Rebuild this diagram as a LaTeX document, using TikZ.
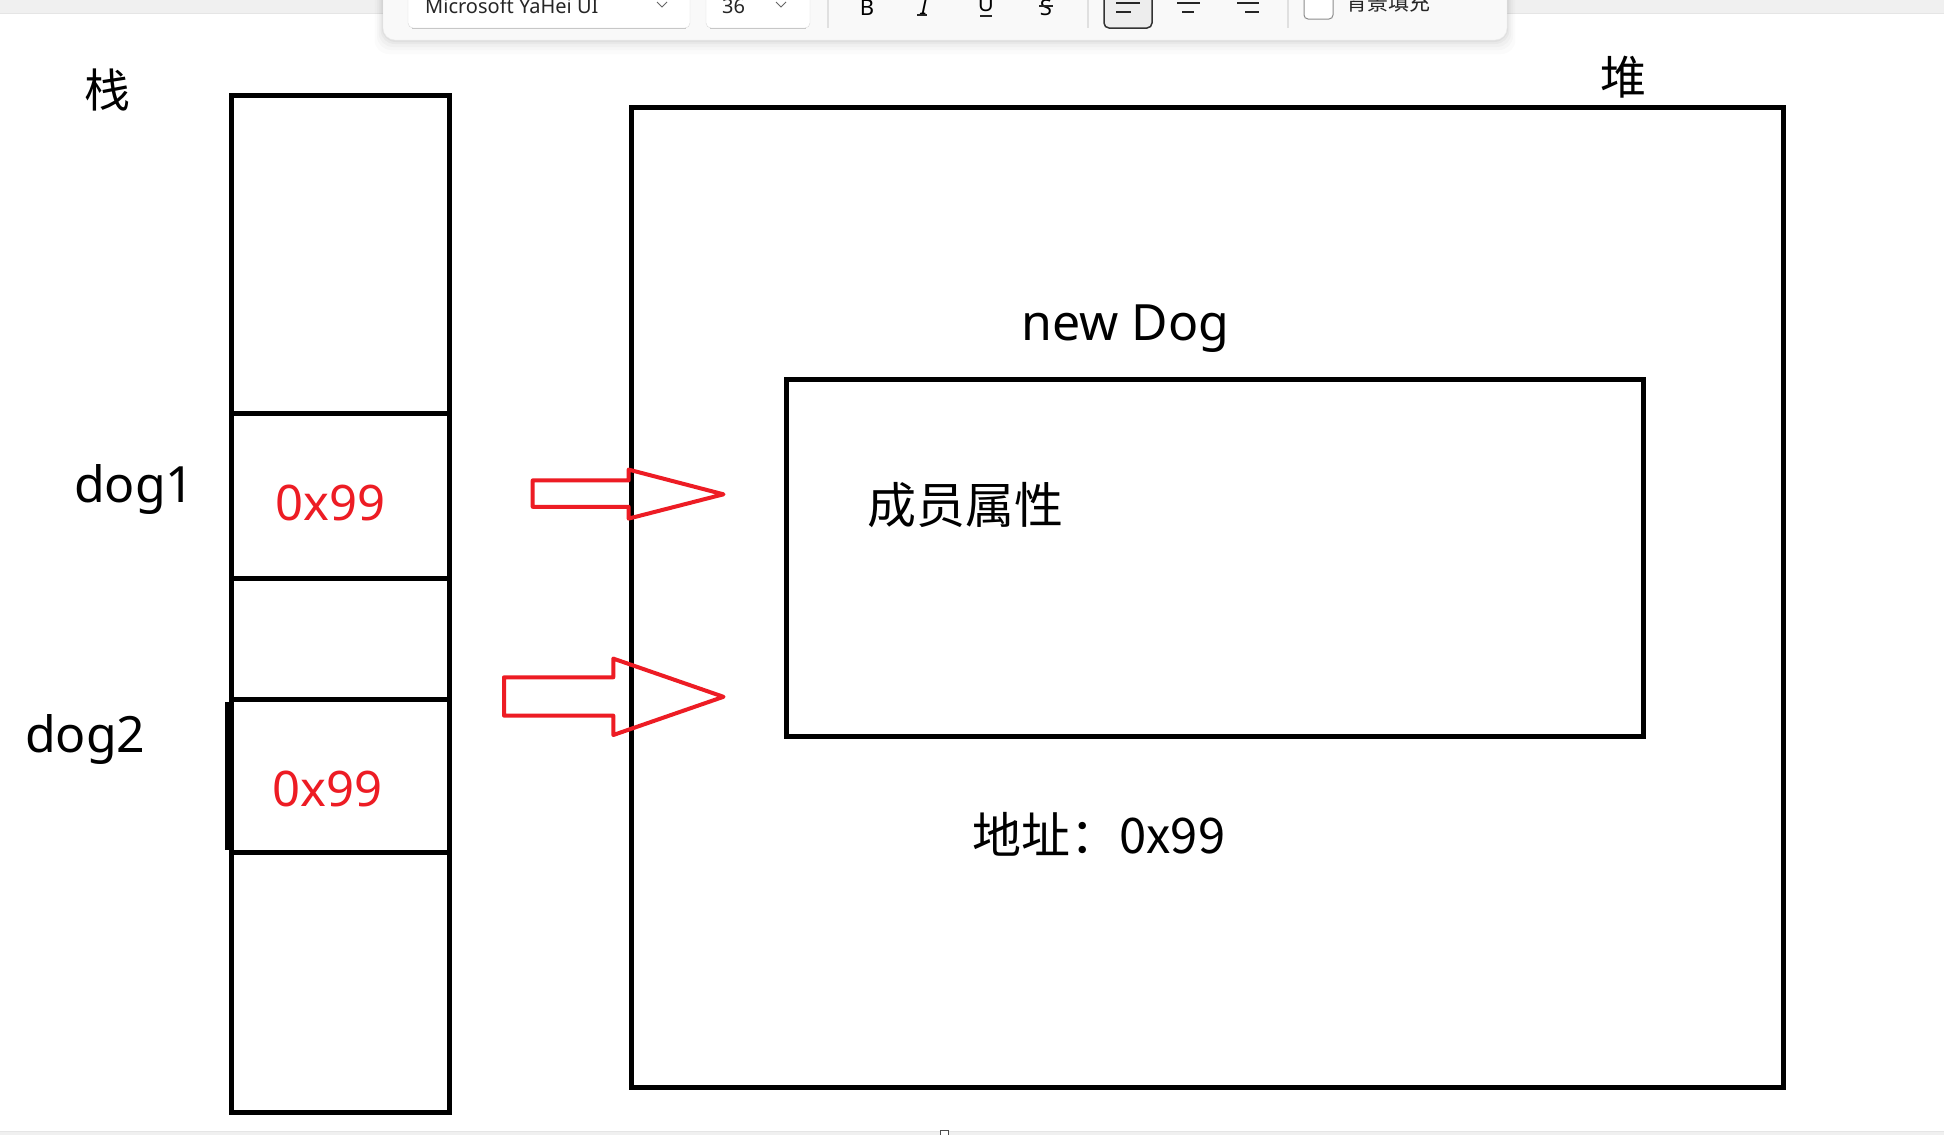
\documentclass[tikz,border=0pt]{standalone}
\usepackage{fontspec}
\setmainfont{Noto Sans}
\newfontfamily\cjk{Noto Sans CJK SC}
\definecolor{pred}{HTML}{ED1C24}
\definecolor{tbbg}{HTML}{F9F9F9}
\definecolor{stripgray}{HTML}{F0F0F0}
\begin{document}
\begin{tikzpicture}[x=1pt,y=-1pt,
  cell/.style={draw, line width=5pt, minimum width=218pt, inner sep=0pt, outer sep=0pt},
  box/.style={draw, line width=5pt, inner sep=0pt, outer sep=0pt},
  bigtxt/.style={font=\fontsize{50}{58}\selectfont, inner sep=0pt, anchor=base west},
  cjktxt/.style={font=\cjk\fontsize{49}{58}\selectfont, inner sep=0pt, anchor=base west},
  redtxt/.style={bigtxt, font=\fontsize{49}{58}\selectfont, text=pred},
  blockarrow/.style={draw=pred, line width=4pt, line join=round},
  uitxt/.style={font=\fontsize{20}{24}\selectfont, inner sep=0pt, anchor=base west, text=black!85},
  uisep/.style={draw=black!12, line width=1.2pt},
  uichev/.style={draw=black!60, line width=1pt},
  uiline/.style={draw=black!85, line width=1.6pt}
]
\useasboundingbox (0,0) rectangle (1944,1135);
\fill[white] (0,0) rectangle (1944,1135);

% top and bottom window strips
\fill[stripgray] (0,0) rectangle (1944,13);
\draw[black!10, line width=1pt] (0,13) -- (1944,13);
\fill[stripgray] (0,1131.5) rectangle (1944,1135);
\draw[black!10, line width=0.8pt] (0,1131.5) -- (1944,1131.5);
\draw[black!70, line width=1pt, fill=white] (940,1130) rectangle (948,1136);

% toolbar with soft shadow
\foreach \d/\o in {14/0.015,10/0.02,7/0.025,4/0.03,2/0.035}{
  \fill[black, opacity=\o, rounded corners=14pt] (383-\d*0.6,-20) rectangle (1507+\d*0.6,40+\d);
}
\draw[fill=tbbg, draw=black!8, rounded corners=12pt] (383,-20) rectangle (1507,40);
\draw[fill=white, draw=black!14, rounded corners=5pt] (408,-10) rectangle (690,28);
\draw[black!22, line width=1pt] (412,28) -- (686,28);
\node[uitxt] (fontname) at (425,13) {Microsoft YaHei UI};
\draw[uichev] (657,2) -- (662,7) -- (667,2);
\draw[fill=white, draw=black!14, rounded corners=5pt] (706,-10) rectangle (810,28);
\draw[black!22, line width=1pt] (710,28) -- (806,28);
\node[uitxt] (fontsize) at (722,13) {36};
\draw[uichev] (776,2) -- (781,7) -- (786,2);
\draw[uisep] (828,-5) -- (828,28);
\node[font=\bfseries\fontsize{22}{26}\selectfont, inner sep=0pt, anchor=base] (bold) at (867,15) {B};
\node[font=\itshape\fontsize{22}{26}\selectfont, inner sep=0pt, anchor=base] (ital) at (924,14) {I};
\draw[black!85, line width=1.2pt] (917,15) -- (927,15);
\node[font=\fontsize{22}{26}\selectfont, inner sep=0pt, anchor=base] (under) at (986,12) {U};
\draw[black!85, line width=1.2pt] (980,16) -- (992,16);
\node[font=\fontsize{22}{26}\selectfont, inner sep=0pt, anchor=base] (strike) at (1046,15) {S};
\draw[black!85, line width=1.2pt] (1039,6) -- (1053,6);
\draw[uisep] (1088,-5) -- (1088,28);
\draw[fill=tbbg!95!black, draw=black!80, line width=1.5pt, rounded corners=5pt] (1104,-10) rectangle (1152,28);
\draw[uiline] (1116,3) -- (1140,3);
\draw[uiline] (1116,12) -- (1131,12);
\draw[uiline] (1177,3) -- (1200,3);
\draw[uiline] (1182,12) -- (1194,12);
\draw[uiline] (1237,3) -- (1259,3);
\draw[uiline] (1245,12) -- (1259,12);
\draw[uisep] (1288,-5) -- (1288,28);
\draw[fill=white, draw=black!45, line width=1pt, rounded corners=4pt] (1304,-8) rectangle (1333,19);
\node[font=\cjk\fontsize{21}{24}\selectfont, inner sep=0pt, anchor=base west, text=black!85] (fill) at (1346,10) {背景填充};

% stack
\node[cell, minimum height=317.6pt] (s0) at (340,254.2) {};
\node[cell, minimum height=165.6pt] (s1) at (340,495.8) {};
\node[cell, minimum height=120.7pt] (s2) at (340,639) {};
\node[cell, minimum height=152.9pt] (s3) at (340,775.75) {};
\node[cell, minimum height=260.5pt] (s4) at (340,982.45) {};
\draw[line width=4pt] ([xshift=-4pt,yshift=-2.5pt]s3.north west) -- ([xshift=-4pt,yshift=2.5pt]s3.south west);

\node[font=\cjk\fontsize{46}{54}\selectfont, inner sep=0pt, anchor=base west] (stacklbl) at (84,107) {栈};
\node[bigtxt] (dog1) at (74,502.5) {dog1};
\node[bigtxt] (dog2) at (25,752.7) {dog2};
\node[redtxt] (v1) at (275,520) {0x99};
\node[redtxt] (v2) at (272,806.5) {0x99};

% heap
\node[box, minimum width=1152pt, minimum height=980.2pt] (heap) at (1207.8,597.2) {};
\node[box, minimum width=857.2pt, minimum height=357.5pt] (obj) at (1215,558.05) {};
\node[font=\cjk\fontsize{46}{54}\selectfont, inner sep=0pt, anchor=base west] (heaplbl) at (1600,94) {堆};
\node[bigtxt] (newdog) at (1021,340) {new Dog};
\node[cjktxt] (attr) at (867,523) {成员属性};
\node[cjktxt] (addr) at (972,853) {地址：0x99};

% block arrows
\draw[blockarrow] (532.7,480.4) -- (628.6,480.4) -- (628.6,469.6) -- (723.5,494.3)
  -- (628.6,518.6) -- (628.6,506.8) -- (532.7,506.8) -- cycle;
\draw[blockarrow] (504,677.3) -- (613.3,677.3) -- (613.3,658.6) -- (723.5,696.8)
  -- (613.3,735) -- (613.3,715.6) -- (504,715.6) -- cycle;
\end{tikzpicture}
\end{document}
